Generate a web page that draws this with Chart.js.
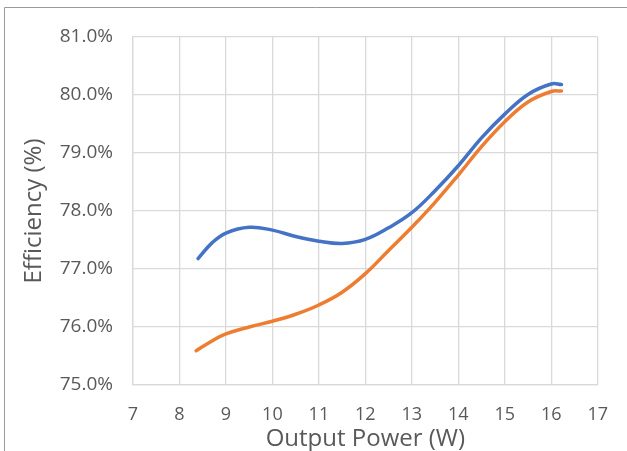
<!DOCTYPE html>
<html>
<head>
<meta charset="utf-8">
<script src="https://cdn.jsdelivr.net/npm/chart.js@4.4.0/dist/chart.umd.min.js"></script>
<style>
  html, body { margin: 0; padding: 0; background: #fff; }
  #wrap { width: 627px; height: 451px; position: relative; }
</style>
</head>
<body>
<div id="wrap"><canvas id="myChart" width="627" height="451"></canvas></div>
<script>
// output power (W) and efficiency (%)
var blueX = [8.4, 8.7, 9.0, 9.5, 10.0, 10.5, 11.0, 11.5, 12.0, 12.5, 13.0, 13.5, 14.0, 14.5, 15.0, 15.5, 16.0, 16.22];
var blueY = [77.18, 77.45, 77.62, 77.72, 77.67, 77.56, 77.48, 77.44, 77.51, 77.71, 77.97, 78.35, 78.78, 79.26, 79.67, 80.01, 80.19, 80.18];
var orangeX = [8.36, 8.7, 9.0, 9.5, 10.0, 10.5, 11.0, 11.5, 12.0, 12.5, 13.0, 13.5, 14.0, 14.5, 15.0, 15.5, 16.0, 16.22];
var orangeY = [75.59, 75.76, 75.88, 76.00, 76.10, 76.22, 76.38, 76.60, 76.92, 77.32, 77.72, 78.15, 78.62, 79.11, 79.54, 79.88, 80.06, 80.07];

var xMin = 7, xMax = 17;
var yMin = 75, yMax = 81;

function toPoints(xs, ys) {
  return xs.map(function (x, i) { return {x: x, y: ys[i]}; });
}

var textColor = '#595959';
var gridColor = '#d9d9d9';
var fontFamily = "'Open Sans', sans-serif";

// thin grey frame round the chart, as in the original screenshot
var framePlugin = {
  id: 'frame',
  afterDraw: function (chart) {
    var c = chart.ctx;
    c.save();
    c.strokeStyle = '#9a9a9a';
    c.lineWidth = 1;
    c.beginPath();
    c.moveTo(4.5, chart.height);
    c.lineTo(4.5, 7.5);
    c.lineTo(chart.width, 7.5);
    c.stroke();
    c.restore();
  }
};

var ctx = document.getElementById('myChart').getContext('2d');
var myChart = new Chart(ctx, {
  type: 'scatter',
  data: {
    datasets: [{
        data: toPoints(blueX, blueY),
        borderColor: '#4472C4',
        backgroundColor: '#4472C4',
        borderWidth: 3.5,
        showLine: true,
        pointRadius: 0,
        tension: 0.4,
        borderCapStyle: 'round'
      }, {
        data: toPoints(orangeX, orangeY),
        borderColor: '#ED7D31',
        backgroundColor: '#ED7D31',
        borderWidth: 3.5,
        showLine: true,
        pointRadius: 0,
        tension: 0.4,
        borderCapStyle: 'round'
      }
    ]
  },
  options: {
    responsive: false,
    animation: false,
    layout: { padding: { top: 37, right: 27, left: 0, bottom: 0 } },
    plugins: {
      legend: { display: false },
      tooltip: { enabled: false }
    },
    scales: {
      x: {
        type: 'linear',
        min: xMin,
        max: xMax,
        afterFit: function (s) { s.height = 66; },
        grid: { color: gridColor, lineWidth: 1.3, drawTicks: false },
        border: { color: gridColor, width: 1.3 },
        ticks: {
          stepSize: 1,
          padding: 19,
          color: textColor,
          font: { family: fontFamily, size: 18 }
        },
        title: {
          display: true,
          text: 'Output Power (W)',
          color: textColor,
          padding: { top: 0, bottom: -3 },
          font: { family: fontFamily, size: 24 }
        }
      },
      y: {
        type: 'linear',
        min: yMin,
        max: yMax,
        afterFit: function (s) { s.width = 133; },
        grid: { color: gridColor, lineWidth: 1.3, drawTicks: false },
        border: { color: gridColor, width: 1.3 },
        ticks: {
          stepSize: 1,
          padding: 20,
          color: textColor,
          font: { family: fontFamily, size: 19 },
          callback: function (v) { return v.toFixed(1) + '%'; }
        },
        title: {
          display: true,
          text: 'Efficiency (%)',
          color: textColor,
          padding: { top: 20, bottom: 0 },
          font: { family: fontFamily, size: 24 }
        }
      }
    }
  },
  plugins: [framePlugin]
});
</script>
</body>
</html>
